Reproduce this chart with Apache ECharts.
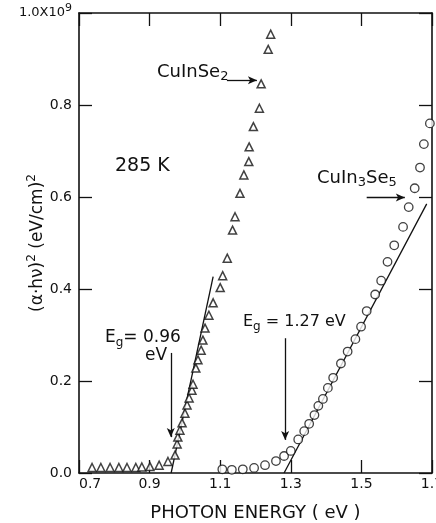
<!DOCTYPE html>
<html>
<head>
<meta charset="utf-8">
<script src="https://cdn.jsdelivr.net/npm/echarts@6/dist/echarts.min.js"></script>
<style>
  html, body { margin: 0; background: #fff; }
  #chart { width: 436px; height: 523px; }
</style>
</head>
<body>
<div id="chart"></div>
<script>
  // CuInSe2 (triangles): photon energy in eV, (alpha h nu)^2 in 1e9 (eV/cm)^2
  var se2Energy = [0.737, 0.762, 0.788, 0.813, 0.836, 0.861, 0.878, 0.901, 0.927, 0.952,
    0.972, 0.978, 0.980, 0.986, 0.992, 1.000, 1.006, 1.012, 1.020, 1.023,
    1.031, 1.037, 1.046, 1.051, 1.057, 1.068, 1.080, 1.100, 1.107, 1.120,
    1.135, 1.142, 1.156, 1.167, 1.181, 1.182, 1.194, 1.211, 1.216, 1.236, 1.243];
  var se2Value = [0.012, 0.012, 0.012, 0.012, 0.012, 0.012, 0.013, 0.014, 0.017, 0.025,
    0.039, 0.063, 0.078, 0.093, 0.109, 0.130, 0.148, 0.163, 0.180, 0.193,
    0.228, 0.246, 0.267, 0.289, 0.315, 0.343, 0.370, 0.403, 0.429, 0.467,
    0.528, 0.557, 0.608, 0.648, 0.677, 0.709, 0.753, 0.793, 0.846, 0.921, 0.954];

  // CuIn3Se5 (circles)
  var se5Energy = [1.106, 1.133, 1.164, 1.196, 1.227, 1.258, 1.281, 1.300, 1.321, 1.338,
    1.352, 1.367, 1.378, 1.391, 1.405, 1.420, 1.442, 1.461, 1.483, 1.499,
    1.515, 1.539, 1.556, 1.574, 1.593, 1.618, 1.634, 1.651, 1.666, 1.677, 1.694];
  var se5Value = [0.008, 0.007, 0.008, 0.011, 0.017, 0.026, 0.037, 0.048, 0.073, 0.091,
    0.107, 0.126, 0.146, 0.161, 0.185, 0.207, 0.238, 0.264, 0.291, 0.318,
    0.352, 0.388, 0.418, 0.459, 0.495, 0.535, 0.578, 0.619, 0.664, 0.715, 0.760];

  // straight-line extrapolations to the energy axis
  var se2FitEnergy = [0.961, 1.080];
  var se2FitValue = [0, 0.427];
  var se5FitEnergy = [1.281, 1.685];
  var se5FitValue = [0, 0.585];

  // arrows, [from, to] in data units
  var gapArrows = [[[0.960, 0.261], [0.960, 0.078]], [[1.284, 0.293], [1.284, 0.072]]];
  var nameArrows = [[[1.119, 0.854], [1.204, 0.854]], [[1.515, 0.599], [1.623, 0.599]]];

  var xMin = 0.7, xMax = 1.7, xStep = 0.2;
  var yMin = 0, yMax = 1.0, yStep = 0.2;

  var FONT = 'DejaVu Sans';
  var INK = '#111';

  function zip(a, b) { return a.map(function (v, i) { return [v, b[i]]; }); }

  var chart = echarts.init(document.getElementById('chart'), null, { renderer: 'canvas' });

  var axisLine = { show: true, onZero: false, lineStyle: { color: INK, width: 1.6 } };
  var axisTick = { show: true, inside: true, length: 13, lineStyle: { color: INK, width: 1.3 } };

  var option = {
    animation: false,
    backgroundColor: '#fff',
    textStyle: { fontFamily: FONT, color: INK },
    grid: { left: 79, right: 4, top: 13, bottom: 50, outerBoundsMode: 'none' },
    xAxis: [{
      type: 'value', position: 'bottom', min: xMin, max: xMax, interval: xStep,
      axisLine: axisLine, axisTick: axisTick, splitLine: { show: false },
      axisLabel: {
        fontSize: 14, color: INK, fontFamily: FONT, margin: 4, alignMinLabel: 'left',
        formatter: function (v) { return v.toFixed(1); }
      },
      name: 'PHOTON ENERGY ( eV )', nameLocation: 'middle', nameGap: 31, nameMoveOverlap: false,
      nameTextStyle: { fontSize: 18, color: INK, fontFamily: FONT }
    }, {
      type: 'value', position: 'top', min: xMin, max: xMax, interval: xStep,
      axisLine: axisLine, axisTick: axisTick, splitLine: { show: false },
      axisLabel: { show: false }
    }],
    yAxis: [{
      type: 'value', position: 'left', min: yMin, max: yMax, interval: yStep,
      axisLine: axisLine, axisTick: axisTick, splitLine: { show: false },
      axisLabel: {
        fontSize: 14, color: INK, fontFamily: FONT, margin: 7,
        formatter: function (v) { return v >= 1 ? '{a|1.0X10}{p|9}' : v.toFixed(1); },
        rich: {
          a: { fontSize: 13, fontFamily: FONT, color: INK },
          p: { fontSize: 11, fontFamily: FONT, color: INK, padding: [0, 0, 9, 0] }
        }
      },
      name: '{m|(α·hν)}{p|2}{m| (eV/cm)}{p|2}', nameLocation: 'middle', nameRotate: 90,
      nameGap: 30, nameMoveOverlap: false,
      nameTextStyle: {
        fontSize: 17, color: INK, fontFamily: FONT,
        rich: {
          m: { fontSize: 17, fontFamily: FONT, color: INK },
          p: { fontSize: 12, fontFamily: FONT, color: INK, padding: [0, 0, 11, 0] }
        }
      }
    }, {
      type: 'value', position: 'right', min: yMin, max: yMax, interval: yStep,
      axisLine: axisLine, axisTick: axisTick, splitLine: { show: false },
      axisLabel: { show: false }
    }],
    series: [{
      name: 'CuInSe2', type: 'scatter', data: zip(se2Energy, se2Value),
      symbol: 'triangle', symbolSize: 8, clip: false, z: 4,
      itemStyle: { color: '#fff', borderColor: INK, borderWidth: 1.5 }
    }, {
      name: 'CuIn3Se5', type: 'scatter', data: zip(se5Energy, se5Value),
      symbol: 'circle', symbolSize: 8.5, clip: false, z: 4,
      itemStyle: { color: '#fff', borderColor: INK, borderWidth: 1.3 }
    }, {
      name: 'fit CuInSe2', type: 'line', data: zip(se2FitEnergy, se2FitValue),
      showSymbol: false, z: 3, lineStyle: { color: INK, width: 1.3 },
      markLine: {
        silent: true, symbol: ['none', 'arrow'], symbolSize: [6, 9],
        lineStyle: { color: INK, width: 1.3, type: 'solid' }, label: { show: false },
        data: gapArrows.concat(nameArrows).map(function (a) {
          return [{ coord: a[0] }, { coord: a[1] }];
        })
      }
    }, {
      name: 'fit CuIn3Se5', type: 'line', data: zip(se5FitEnergy, se5FitValue),
      showSymbol: false, z: 3, lineStyle: { color: INK, width: 1.3 }
    }],
    graphic: [
      textAt(157, 72, '{m|CuInSe}{s|2}', 18),
      textAt(115, 166, '{m|285 K}', 19),
      textAt(317, 178, '{m|CuIn}{s|3}{m|Se}{s|5}', 18),
      textAt(105, 338, '{m|E}{s|g}{m|= 0.96}', 17),
      textAt(145, 356, '{m|eV}', 17),
      textAt(243, 322, '{m|E}{s|g}{m| = 1.27 eV}', 16)
    ]
  };

  function textAt(x, y, text, size) {
    return {
      type: 'text', x: x, y: y, silent: true,
      style: {
        text: text, fill: INK, verticalAlign: 'middle', align: 'left',
        fontSize: size, fontFamily: FONT,
        rich: {
          m: { fontSize: size, fontFamily: FONT, fill: INK, color: INK },
          s: { fontSize: Math.round(size * 0.72), fontFamily: FONT, fill: INK, color: INK,
               padding: [Math.round(size * 0.55), 0, 0, 0] }
        }
      }
    };
  }

  chart.setOption(option);
</script>
</body>
</html>
